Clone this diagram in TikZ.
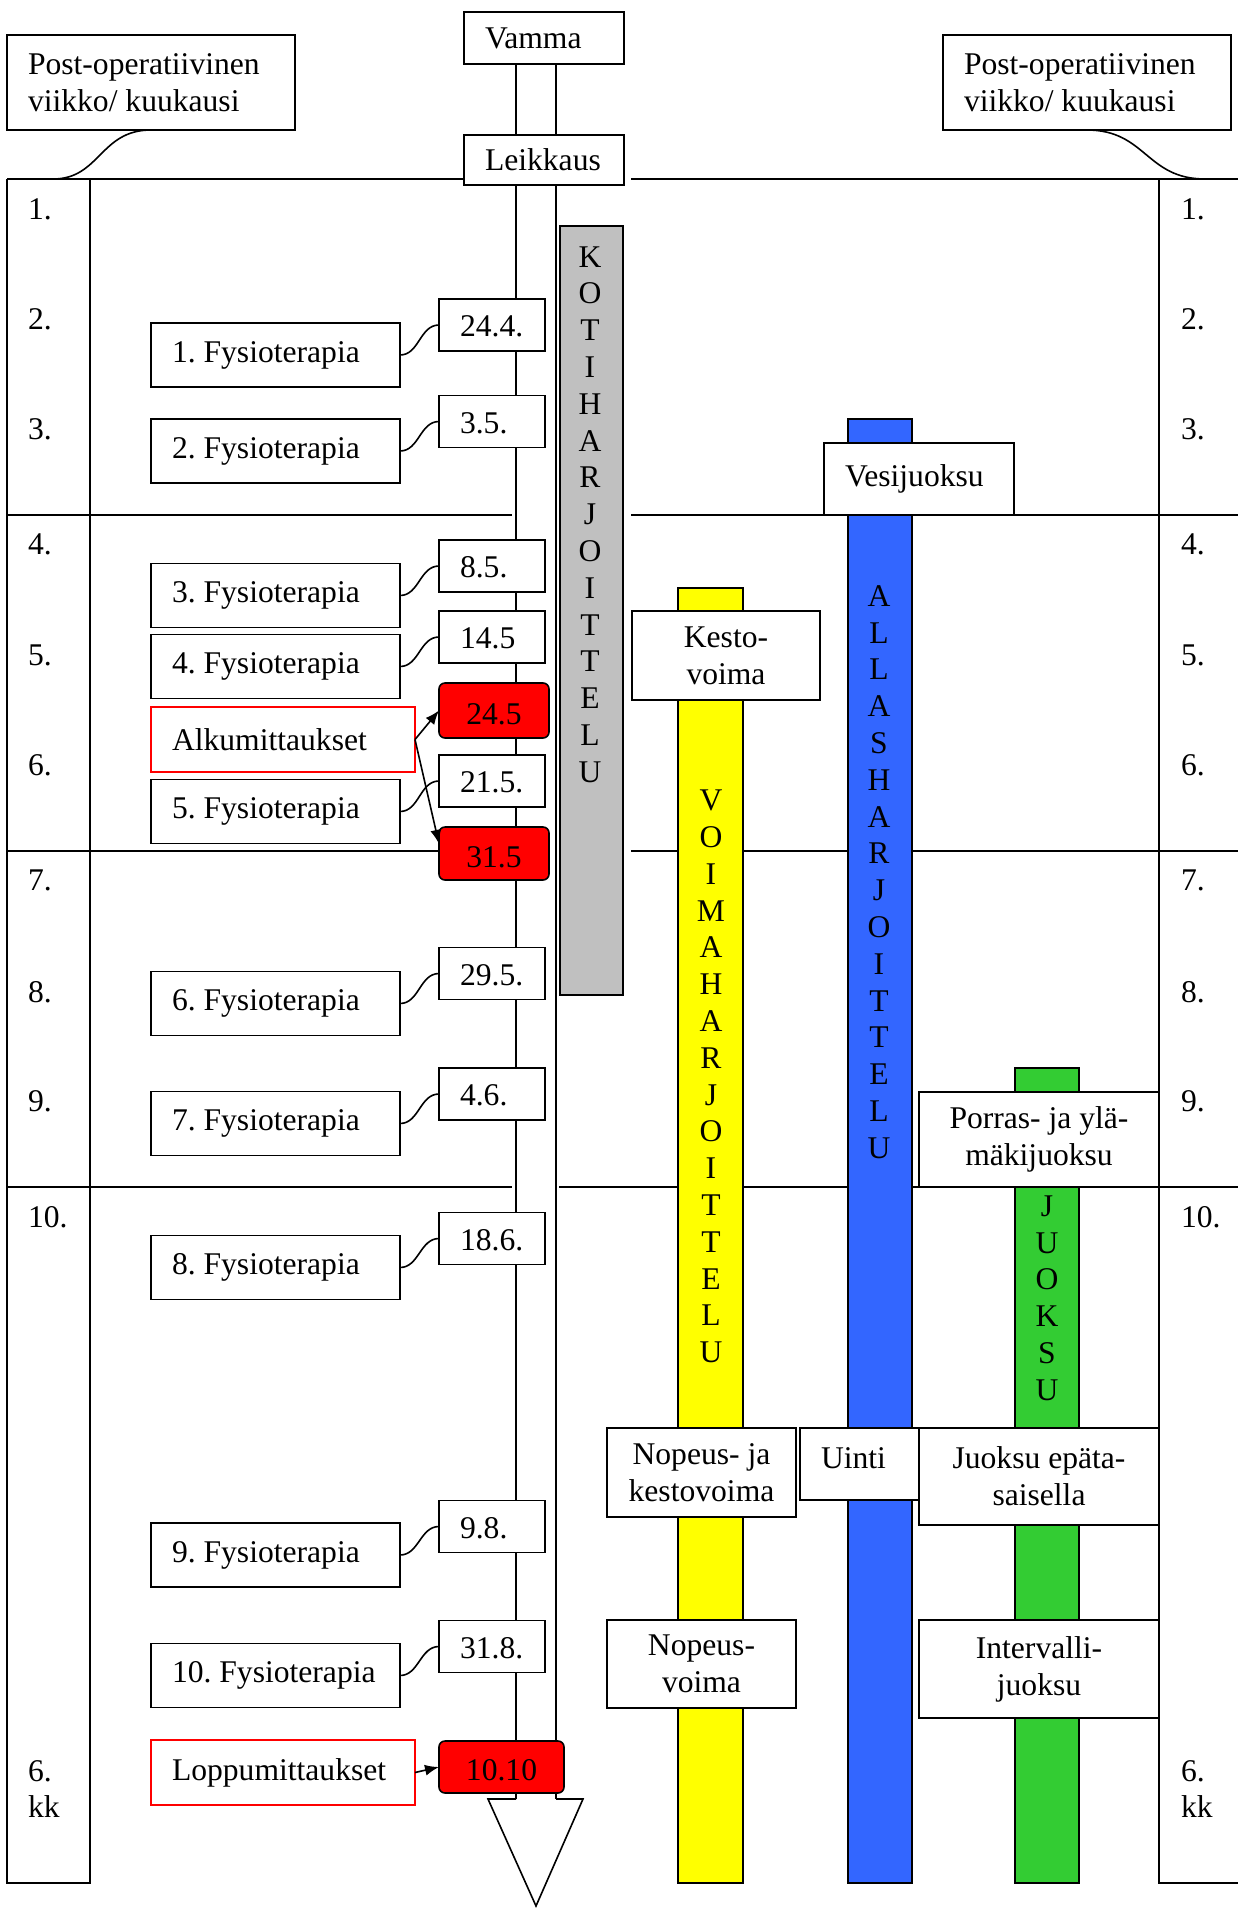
\documentclass[tikz,border=0pt]{standalone}
\usepackage{fontspec}
\setmainfont{Liberation Serif}
\usetikzlibrary{arrows.meta}
\definecolor{barGrey}{HTML}{C0C0C0}
\definecolor{barYellow}{HTML}{FFFF00}
\definecolor{barBlue}{HTML}{3366FF}
\definecolor{barGreen}{HTML}{33CC33}
\definecolor{mRed}{HTML}{FF0000}
\frenchspacing
\begin{document}
\begin{tikzpicture}[x=0.5pt,y=-0.5pt,
  font=\fontsize{15.8pt}{18.4pt}\selectfont\frenchspacing,
  every node/.style={inner sep=0pt, outer sep=0pt},
  lw/.style={line width=0.8pt},
  lbox/.style={draw, fill=white, line width=0.8pt, inner xsep=10.5pt, inner ysep=0pt, align=flush left},
  cbox/.style={draw, fill=white, line width=0.8pt, align=center},
  redbox/.style={draw=mRed, fill=white, line width=0.8pt, inner xsep=10.5pt, align=flush left, text width=111pt, minimum height=32.5pt},
  fysio/.style={lbox, text width=103.5pt, minimum height=32pt},
  datebox/.style={lbox, text width=32pt, minimum height=26pt, text height=12pt},
  rdate/.style={draw, fill=mRed, rounded corners=3pt, line width=0.8pt, align=center, text height=14pt},
  vtext/.style={align=center},
  numtext/.style={anchor=west, align=left},
  conn/.style={line width=0.8pt},
  arr/.style={line width=0.8pt, -{Latex[length=7pt,width=5.5pt]}},
  bar/.style={draw, line width=0.8pt}
]
\useasboundingbox (0,0) rectangle (1238,1908);

% grid lines
\draw[lw] (7,179) -- (464,179);
\draw[lw] (631,179) -- (1238,179);
\draw[lw] (7,515) -- (512,515);
\draw[lw] (631,515) -- (1238,515);
\draw[lw] (7,851) -- (440,851);
\draw[lw] (631,851) -- (1238,851);
\draw[lw] (7,1187) -- (512,1187);
\draw[lw] (559,1187) -- (1238,1187);
% columns
\draw[lw] (7,179) -- (7,1883) -- (90,1883) -- (90,179);
\draw[lw] (1159,179) -- (1159,1883) -- (1238,1883);

% week numbers
\foreach \t/\y in {1./209.4, 2./318.9, 3./429.7, 4./544.1, 5./654.9, 6./765.7, 7./880.1, 8./992.1, 9./1101.7, 10./1217.3}{
  \node[numtext] (nl\y) at (28,\y) {\t};
  \node[numtext] (nr\y) at (1181,\y) {\t};
}
\node[numtext] (nlkk) at (28,1789) {6.\\kk};
\node[numtext] (nrkk) at (1181,1789) {6.\\kk};

% shaft
\draw[lw] (516,63) -- (516,134);
\draw[lw] (556,63) -- (556,134);
\draw[lw] (516,184) -- (516,1799);
\draw[lw] (556,184) -- (556,1799);
\draw[lw, fill=white] (516,1799) -- (488,1799) -- (536,1906) -- (583,1799) -- (556,1799);

% bars
\draw[bar, fill=barGrey] (560,226) rectangle (623,995);
\draw[bar, fill=barYellow] (678,588) rectangle (743,1883);
\draw[bar, fill=barBlue] (848,419) rectangle (912,1883);
\draw[bar, fill=barGreen] (1015,1068) rectangle (1079,1883);

\node[vtext] (koti) at (590,514.5) {K\\O\\T\\I\\H\\A\\R\\J\\O\\I\\T\\T\\E\\L\\U};
\node[vtext] (voima) at (711,1076.5) {V\\O\\I\\M\\A\\H\\A\\R\\J\\O\\I\\T\\T\\E\\L\\U};
\node[vtext] (allas) at (879,872) {A\\L\\L\\A\\S\\H\\A\\R\\J\\O\\I\\T\\T\\E\\L\\U};
\node[vtext] (juoksu) at (1047,1298) {J\\U\\O\\K\\S\\U};

% header boxes
\node[lbox, text width=123pt, minimum height=47.5pt] (hdrL) at (151,82.5) {Post-operatiivinen\\viikko/ kuukausi};
\node[lbox, text width=123pt, minimum height=47.5pt] (hdrR) at (1087,82.5) {Post-operatiivinen\\viikko/ kuukausi};
\node[lbox, text width=59pt, minimum height=26pt] (vamma) at (544,38) {Vamma};
\node[lbox, text width=59pt, minimum height=25pt] (leikkaus) at (544,160) {Leikkaus};

% fysioterapia boxes
\node[fysio] (f1) at (275.5,355) {1. Fysioterapia};
\node[fysio] (f2) at (275.5,451) {2. Fysioterapia};
\node[fysio] (f3) at (275.5,595.5) {3. Fysioterapia};
\node[fysio] (f4) at (275.5,666.5) {4. Fysioterapia};
\node[fysio] (f5) at (275.5,811.5) {5. Fysioterapia};
\node[fysio] (f6) at (275.5,1003.5) {6. Fysioterapia};
\node[fysio] (f7) at (275.5,1123.5) {7. Fysioterapia};
\node[fysio] (f8) at (275.5,1267.5) {8. Fysioterapia};
\node[fysio] (f9) at (275.5,1555) {9. Fysioterapia};
\node[fysio] (f10) at (275.5,1675.5) {10. Fysioterapia};
\node[redbox] (alk) at (283,739.5) {Alkumittaukset};
\node[redbox] (lopp) at (283,1772.5) {Loppumittaukset};

% date boxes
\node[datebox] (d244) at (492,325) {24.4.};
\node[datebox] (d35) at (492,421.5) {3.5.};
\node[datebox] (d85) at (492,566) {8.5.};
\node[datebox] (d145) at (492,637) {14.5};
\node[datebox] (d215) at (492,781) {21.5.};
\node[datebox] (d295) at (492,973.5) {29.5.};
\node[datebox] (d46) at (492,1094) {4.6.};
\node[datebox] (d186) at (492,1238.5) {18.6.};
\node[datebox] (d98) at (492,1526.5) {9.8.};
\node[datebox] (d318) at (492,1646.5) {31.8.};
\node[rdate, minimum width=55pt, minimum height=27.5pt] (d245) at (494,710.5) {24.5};
\node[rdate, minimum width=55pt, minimum height=26.5pt] (d315) at (494,853.5) {31.5};
\node[rdate, minimum width=62.5pt, minimum height=26pt] (d1010) at (501.5,1767) {10.10};

% activity boxes
\node[cbox, minimum width=94pt, minimum height=44.5pt] (kesto) at (726,655.5) {Kesto-\\voima};
\node[cbox, minimum width=94.5pt, minimum height=44.5pt] (nopja) at (701.5,1472.5) {Nopeus- ja\\kestovoima};
\node[cbox, minimum width=94.5pt, minimum height=44pt] (nopv) at (701.5,1664) {Nopeus-\\voima};
\node[lbox, text width=74pt, minimum height=36pt] (vesi) at (919,479) {Vesijuoksu};
\node[lbox, text width=38.5pt, minimum height=36pt, text depth=6pt] (uinti) at (859.5,1464) {Uinti};
\node[cbox, minimum width=120pt, minimum height=47.5pt] (porras) at (1039,1139.5) {Porras- ja ylä-\\mäkijuoksu};
\node[cbox, minimum width=120pt, minimum height=48.5pt] (epat) at (1039,1476.5) {Juoksu epäta-\\saisella};
\node[cbox, minimum width=120pt, minimum height=49pt] (interv) at (1039,1669) {Intervalli-\\juoksu};

% header curves
\coordinate (cL) at (53,179);
\coordinate (cR) at (1205,179);
\draw[conn] (hdrL.south) .. controls (100,130) and (100,179) .. (cL);
\draw[conn] (hdrR.south) .. controls (1146,130) and (1146,179) .. (cR);

% fysio to date connectors
\draw[conn] (f1.east) to[out=0,in=180] (d244.west);
\draw[conn] (f2.east) to[out=0,in=180] (d35.west);
\draw[conn] (f3.east) to[out=0,in=180] (d85.west);
\draw[conn] (f4.east) to[out=0,in=180] (d145.west);
\draw[conn] (f5.east) to[out=0,in=180] (d215.west);
\draw[conn] (f6.east) to[out=0,in=180] (d295.west);
\draw[conn] (f7.east) to[out=0,in=180] (d46.west);
\draw[conn] (f8.east) to[out=0,in=180] (d186.west);
\draw[conn] (f9.east) to[out=0,in=180] (d98.west);
\draw[conn] (f10.east) to[out=0,in=180] (d318.west);

% measurement arrows
\draw[arr] (alk.east) -- (d245.west);
\draw[arr] (alk.east) -- (d315.170);
\draw[arr] (lopp.east) -- (d1010.west);
\end{tikzpicture}
\end{document}
